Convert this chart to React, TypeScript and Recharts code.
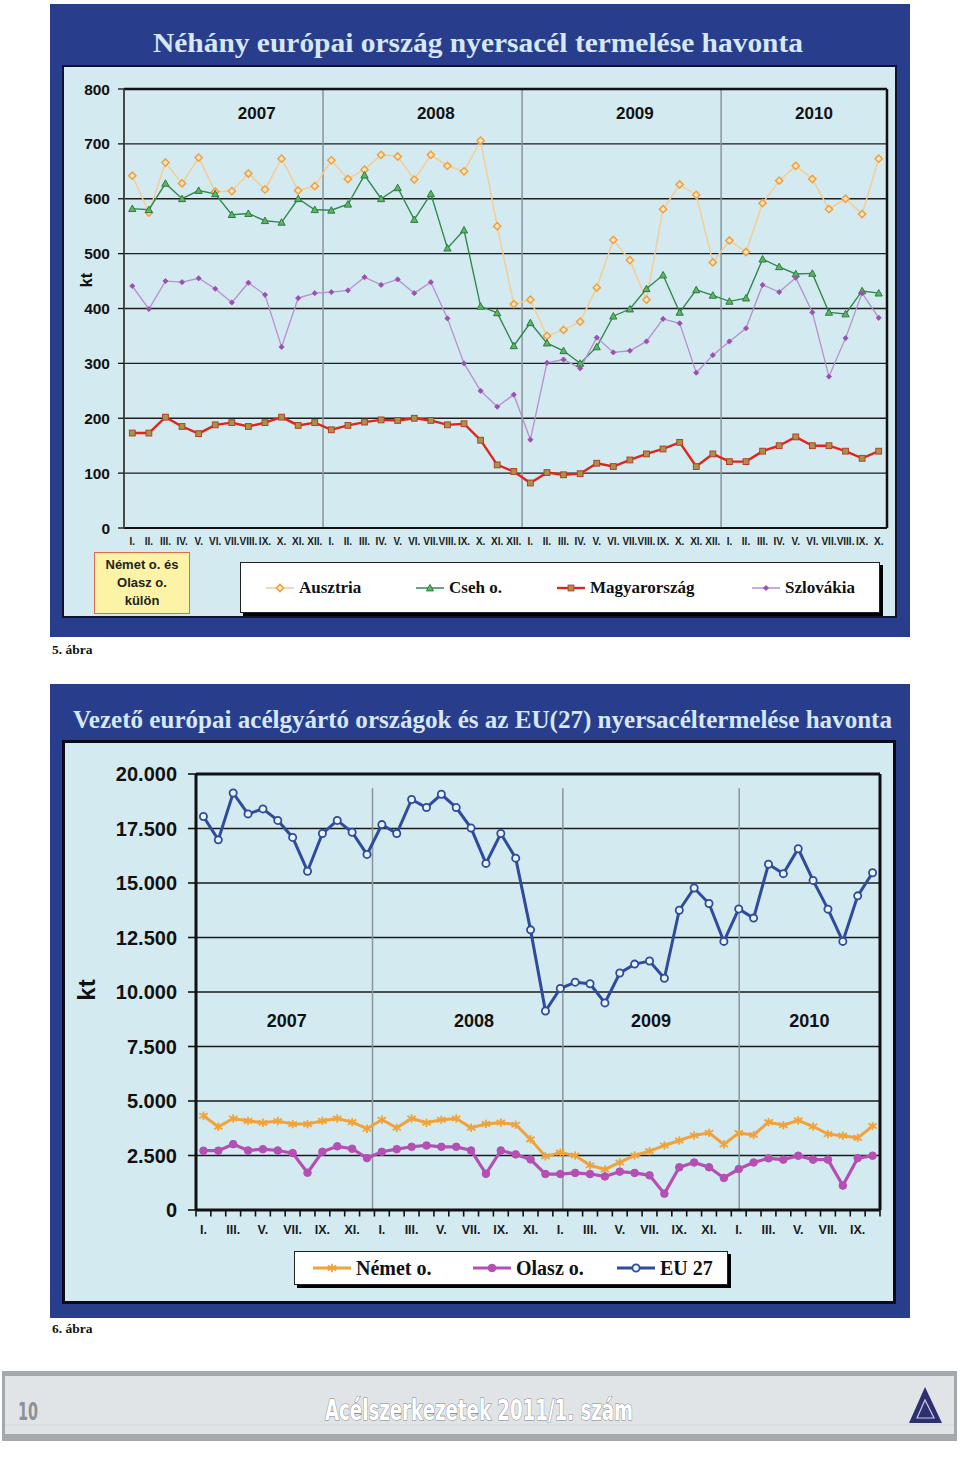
import React from 'react';
import { LineChart, Line, XAxis, YAxis, CartesianGrid, ReferenceLine, ReferenceDot, Legend } from 'recharts';

// ---------- categories / labels ----------
const monthNames = ['I.', 'II.', 'III.', 'IV.', 'V.', 'VI.', 'VII.', 'VIII.', 'IX.', 'X.', 'XI.', 'XII.'];
const monthLabels = [...monthNames, ...monthNames, ...monthNames, ...monthNames.slice(0, 10)];
const years = ['2007', '2008', '2009', '2010'];

// ---------- chart 1 series (kt) ----------
const austria = [642, 575, 666, 628, 675, 613, 614, 646, 617, 673, 615, 623, 670, 636, 653, 680, 677, 635, 680, 660, 650, 706, 550, 408, 416, 350, 361, 376, 438, 525, 488, 416, 581, 626, 607, 484, 524, 503, 592, 633, 660, 636, 581, 600, 572, 673];
const czech = [582, 580, 628, 600, 615, 609, 571, 573, 560, 557, 600, 580, 579, 590, 643, 600, 620, 562, 609, 510, 543, 404, 392, 332, 374, 337, 323, 300, 330, 386, 399, 436, 461, 393, 434, 424, 413, 419, 490, 476, 463, 464, 393, 390, 432, 428];
const hungary = [173, 173, 202, 185, 172, 188, 192, 185, 192, 202, 187, 192, 179, 187, 193, 197, 196, 200, 196, 188, 190, 160, 115, 103, 82, 101, 97, 99, 118, 112, 124, 135, 144, 156, 112, 135, 121, 121, 140, 150, 166, 150, 150, 140, 127, 140];
const slovakia = [441, 399, 450, 448, 455, 436, 411, 447, 425, 330, 419, 428, 430, 433, 457, 443, 453, 428, 448, 382, 300, 250, 221, 243, 161, 301, 307, 291, 347, 320, 323, 340, 381, 373, 283, 315, 340, 364, 443, 430, 456, 393, 276, 346, 428, 383];

// ---------- chart 2 series (kt) ----------
const eu27 = [18050, 16980, 19130, 18170, 18400, 17870, 17090, 15540, 17270, 17870, 17330, 16310, 17680, 17270, 18830, 18460, 19070, 18460, 17520, 15900, 17270, 16140, 12850, 9130, 10160, 10450, 10380, 9500, 10870, 11280, 11420, 10630, 13750, 14770, 14060, 12320, 13810, 13390, 15860, 15430, 16570, 15120, 13800, 12320, 14410, 15470];
const germany = [4320, 3820, 4200, 4090, 4000, 4080, 3940, 3940, 4090, 4200, 4030, 3730, 4140, 3770, 4200, 4000, 4140, 4200, 3770, 3950, 4010, 3910, 3240, 2460, 2630, 2500, 2050, 1860, 2180, 2500, 2700, 2960, 3190, 3420, 3540, 3010, 3530, 3440, 4030, 3890, 4110, 3830, 3480, 3410, 3310, 3850];
const italy = [2720, 2720, 3020, 2730, 2790, 2730, 2610, 1710, 2670, 2920, 2810, 2380, 2670, 2790, 2900, 2960, 2900, 2900, 2730, 1660, 2730, 2550, 2320, 1650, 1650, 1700, 1650, 1540, 1760, 1700, 1590, 750, 1960, 2180, 1960, 1470, 1880, 2180, 2370, 2310, 2490, 2310, 2310, 1120, 2380, 2490];

// ---------- axis ticks ----------
const yTicks1 = [0, 100, 200, 300, 400, 500, 600, 700, 800];
const yTicks2 = [0, 2500, 5000, 7500, 10000, 12500, 15000, 17500, 20000];
const xIdx = monthLabels.map((_, i) => i);
// chart 2: category boundaries (tick marks) + category centres (labels)
const xTicks2 = [...xIdx.flatMap((i) => [i - 0.5, i]), monthLabels.length - 0.5];

// annotation anchors (axis units)
const yearAnchor1 = [{ x: 7.5, y: 756 }, { x: 18.3, y: 756 }, { x: 30.3, y: 756 }, { x: 41.1, y: 756 }];
const yearAnchor2 = [{ x: 5.6, y: 8670 }, { x: 18.2, y: 8670 }, { x: 30.1, y: 8670 }, { x: 40.75, y: 8670 }];
const sep1 = [11.5, 23.5, 35.5];
const sep2 = [11.37, 24.17, 36.03];

const data1 = monthLabels.map((m, i) => ({ i, m, austria: austria[i], czech: czech[i], hungary: hungary[i], slovakia: slovakia[i] }));
const data2 = monthLabels.map((m, i) => ({ i, m, germany: germany[i], italy: italy[i], eu27: eu27[i] }));

const SANS = 'Liberation Sans, Arial, Helvetica, sans-serif';
const SERIF = 'Liberation Serif, Times New Roman, serif';

type Kind = 'diamond' | 'triangle' | 'square' | 'smalldiamond' | 'star' | 'dot' | 'ring';
interface SeriesStyle { key: string; name: string; line: string; width: number; kind: Kind; mStroke: string; mFill: string; size: number; }

const series1: SeriesStyle[] = [
  { key: 'austria', name: 'Ausztria', line: '#f5cd94', width: 1.5, kind: 'diamond', mStroke: '#f0a03c', mFill: '#fbe6c6', size: 3.6 },
  { key: 'czech', name: 'Cseh o.', line: '#2f8a4e', width: 1.4, kind: 'triangle', mStroke: '#2f7a44', mFill: '#5cb660', size: 3.6 },
  { key: 'hungary', name: 'Magyarország', line: '#e2231a', width: 2.4, kind: 'square', mStroke: '#b5402a', mFill: '#a8934a', size: 2.9 },
  { key: 'slovakia', name: 'Szlovákia', line: '#b690cd', width: 1.3, kind: 'smalldiamond', mStroke: '#9c4fae', mFill: '#9c4fae', size: 2.6 },
];
const series2: SeriesStyle[] = [
  { key: 'germany', name: 'Német o.', line: '#f2a23a', width: 3, kind: 'star', mStroke: '#f2a23a', mFill: '#f2a23a', size: 4.2 },
  { key: 'italy', name: 'Olasz o.', line: '#b44fb4', width: 3.2, kind: 'dot', mStroke: '#b44fb4', mFill: '#b44fb4', size: 3.8 },
  { key: 'eu27', name: 'EU 27', line: '#2e4b9c', width: 3, kind: 'ring', mStroke: '#2e4b9c', mFill: '#e9f3f8', size: 3.6 },
];

function Marker({ s, cx, cy }: { s: SeriesStyle; cx: number; cy: number }) {
  const r = s.size;
  switch (s.kind) {
    case 'diamond':
    case 'smalldiamond':
      return <polygon points={`${cx},${cy - r} ${cx + r},${cy} ${cx},${cy + r} ${cx - r},${cy}`} fill={s.mFill} stroke={s.mStroke} strokeWidth={s.kind === 'diamond' ? 1.5 : 0.8} />;
    case 'triangle':
      return <polygon points={`${cx},${cy - r} ${cx + r},${cy + r * 0.8} ${cx - r},${cy + r * 0.8}`} fill={s.mFill} stroke={s.mStroke} strokeWidth={1} />;
    case 'square':
      return <rect x={cx - r} y={cy - r} width={2 * r} height={2 * r} fill={s.mFill} stroke={s.mStroke} strokeWidth={1} />;
    case 'star':
      return (
        <g stroke={s.mStroke} strokeWidth={1.8}>
          <line x1={cx} y1={cy - r} x2={cx} y2={cy + r} />
          <line x1={cx - r} y1={cy - r * 0.6} x2={cx + r} y2={cy + r * 0.6} />
          <line x1={cx - r} y1={cy + r * 0.6} x2={cx + r} y2={cy - r * 0.6} />
        </g>
      );
    case 'dot':
      return <circle cx={cx} cy={cy} r={r} fill={s.mFill} stroke={s.mStroke} strokeWidth={1} />;
    case 'ring':
    default:
      return <circle cx={cx} cy={cy} r={r} fill={s.mFill} stroke={s.mStroke} strokeWidth={1.8} />;
  }
}

const makeDot = (s: SeriesStyle) => (p: any) => {
  if (p.cx == null || p.cy == null) return <g key={`${s.key}-e-${p.index}`} />;
  return <g key={`${s.key}-${p.index}`}><Marker s={s} cx={p.cx} cy={p.cy} /></g>;
};

const MonthTick1 = (p: any) => (
  <text x={p.x} y={p.y} dy="0.71em" textAnchor="middle" fontSize={10} fontWeight="bold" fontFamily={SANS} fill="#1a1a1a">
    {monthLabels[p.payload.value]}
  </text>
);
// chart 2 tick: y is the axis line itself (tickSize 0, tickMargin 0)
const MonthTick2 = (p: any) => {
  const v = p.payload.value;
  if (!Number.isInteger(v)) {
    return <line x1={p.x} y1={p.y} x2={p.x} y2={p.y + 6.5} stroke="#111" strokeWidth={1.6} />;
  }
  if (v % 2 !== 0) return <g />;
  return (
    <text x={p.x} y={p.y + 15} dy="0.71em" textAnchor="middle" fontSize={12.5} fontWeight="bold" fontFamily={SANS} fill="#1a1a1a">
      {monthLabels[v]}
    </text>
  );
};

const fmtThousands = (v: number) => {
  const s = String(v);
  return s.length > 3 ? s.slice(0, s.length - 3) + '.' + s.slice(-3) : s;
};

function LegendBox({ series, width, height, offsets, fontSize, lineLen }: { series: SeriesStyle[]; width: number; height: number; offsets: number[]; fontSize: number; lineLen: number }) {
  return (
    <div style={{ position: 'relative', width, height, background: '#fff', border: '1px solid #222', boxShadow: '3px 3px 0 #000', boxSizing: 'border-box' }}>
      {series.map((s, k) => (
        <div key={s.key} style={{ position: 'absolute', left: offsets[k], top: 0, height: height - 2, display: 'flex', alignItems: 'center' }}>
          <svg width={lineLen} height={14} style={{ display: 'block' }}>
            <line x1={0} y1={7} x2={lineLen} y2={7} stroke={s.line} strokeWidth={Math.max(1.5, s.width)} />
            <Marker s={s} cx={lineLen / 2} cy={7} />
          </svg>
          <span style={{ marginLeft: 5, fontFamily: SERIF, fontWeight: 'bold', fontSize, color: '#111', whiteSpace: 'nowrap' }}>{s.name}</span>
        </div>
      ))}
    </div>
  );
}

function Chart1() {
  return (
    <LineChart width={833} height={551} data={data1} margin={{ top: 23, right: 9, left: 0, bottom: 69 }}>
      <CartesianGrid vertical={false} stroke="#1e1e1e" strokeWidth={1.3} />
      <XAxis dataKey="i" type="number" domain={[-0.5, 45.5]} ticks={xIdx} interval={0} tick={MonthTick1} tickLine={false} tickMargin={4}
        axisLine={{ stroke: '#111', strokeWidth: 2 }} height={20} />
      <YAxis type="number" domain={[0, 800]} ticks={yTicks1} interval={0} width={61} tickMargin={8}
        tick={{ fontSize: 15.5, fontWeight: 'bold', fontFamily: SANS, fill: '#111' }}
        tickLine={{ stroke: '#111', strokeWidth: 1.3 }} axisLine={{ stroke: '#4a4a4a', strokeWidth: 2 }}
        label={{ content: (p: any) => (
          <text x={p.viewBox.x + 23} y={p.viewBox.y + 191} transform={`rotate(-90 ${p.viewBox.x + 23} ${p.viewBox.y + 191})`} textAnchor="middle" dominantBaseline="central" fontSize={16} fontWeight="bold" fontFamily={SANS} fill="#111">kt</text>
        ) }} />
      {sep1.map((x) => <ReferenceLine key={x} x={x} stroke="#8a9499" strokeWidth={1.5} />)}
      <ReferenceLine y={800} stroke="#111" strokeWidth={2.5} />
      <ReferenceLine x={45.5} stroke="#111" strokeWidth={2.5} />
      {yearAnchor1.map((a, k) => (
        <ReferenceDot key={years[k]} x={a.x} y={a.y} r={0} fill="none" stroke="none"
          label={{ value: years[k], position: 'center', fontSize: 17, fontWeight: 'bold', fontFamily: SANS, fill: '#111' }} />
      ))}
      {series1.map((s) => (
        <Line key={s.key} type="linear" dataKey={s.key} name={s.name} stroke={s.line} strokeWidth={s.width} dot={makeDot(s)} activeDot={false} isAnimationActive={false} />
      ))}
      <Legend layout="vertical" align="center" verticalAlign="middle" wrapperStyle={{ left: 177, top: 496, width: 640, height: 51 }}
        content={() => <LegendBox series={series1} width={640} height={51} offsets={[25, 175, 316, 511]} fontSize={17} lineLen={28} />} />
    </LineChart>
  );
}

function Chart2() {
  return (
    <LineChart width={832} height={561} data={data2} margin={{ top: 32, right: 16, left: 0, bottom: 63 }}>
      <CartesianGrid vertical={false} stroke="#1a1a1a" strokeWidth={1.6} />
      <XAxis dataKey="i" type="number" domain={[-0.5, 45.5]} ticks={xTicks2} interval={0} tick={MonthTick2} tickLine={false} tickSize={0} tickMargin={0}
        axisLine={{ stroke: '#111', strokeWidth: 3 }} height={30} />
      <YAxis type="number" domain={[0, 20000]} ticks={yTicks2} interval={0} width={132} tickSize={8} tickMargin={11}
        tickFormatter={fmtThousands}
        tick={{ fontSize: 20, fontWeight: 'bold', fontFamily: SANS, fill: '#111' }}
        tickLine={{ stroke: '#111', strokeWidth: 1.6 }} axisLine={{ stroke: '#111', strokeWidth: 3 }}
        label={{ content: (p: any) => (
          <text x={p.viewBox.x + 22} y={p.viewBox.y + 216} transform={`rotate(-90 ${p.viewBox.x + 22} ${p.viewBox.y + 216})`} textAnchor="middle" dominantBaseline="central" fontSize={24} fontWeight="bold" fontFamily={SANS} fill="#111">kt</text>
        ) }} />
      {sep2.map((x) => <ReferenceLine key={x} segment={[{ x, y: 0 }, { x, y: 19350 }]} stroke="#8a9499" strokeWidth={1.5} />)}
      <ReferenceLine y={20000} stroke="#111" strokeWidth={3} />
      <ReferenceLine x={45.5} stroke="#111" strokeWidth={3} />
      {yearAnchor2.map((a, k) => (
        <ReferenceDot key={years[k]} x={a.x} y={a.y} r={0} fill="none" stroke="none"
          label={{ value: years[k], position: 'center', fontSize: 18, fontWeight: 'bold', fontFamily: SANS, fill: '#111' }} />
      ))}
      {series2.map((s) => (
        <Line key={s.key} type="linear" dataKey={s.key} name={s.name} stroke={s.line} strokeWidth={s.width} dot={makeDot(s)} activeDot={false} isAnimationActive={false} />
      ))}
      <Legend layout="vertical" align="center" verticalAlign="middle" wrapperStyle={{ left: 230, top: 509, width: 434, height: 34 }}
        content={() => <LegendBox series={series2} width={434} height={34} offsets={[18, 178, 322]} fontSize={20} lineLen={38} />} />
    </LineChart>
  );
}

const abs = (left: number, top: number, width: number, height: number, extra: React.CSSProperties = {}): React.CSSProperties => ({ position: 'absolute', left, top, width, height, boxSizing: 'border-box', ...extra });

export default function App() {
  return (
    <div style={{ position: 'absolute', left: 0, top: 0, width: 960, height: 1461, background: '#fff', overflow: 'hidden' }}>
      {/* panel 1 */}
      <div style={abs(50, 4, 860, 633, { background: '#283e8c' })} />
      <div style={abs(62, 65, 835, 553, { background: '#d3eaf0', border: '2px solid #10122e' })} />
      {/* panel 2 */}
      <div style={abs(50, 684, 860, 634, { background: '#283e8c' })} />
      <div style={abs(62, 740, 834, 564, { background: '#d3eaf0', border: '3px solid #0a0a1a' })} />

      <svg width={960} height={1461} style={{ position: 'absolute', left: 0, top: 0 }}>
        <text x={153} y={52} textLength={650} lengthAdjust="spacingAndGlyphs" fontFamily={SERIF} fontWeight="bold" fontSize={28} fill="#d6e7f5">Néhány európai ország nyersacél termelése havonta</text>
        <text x={73} y={728} textLength={819} lengthAdjust="spacingAndGlyphs" fontFamily={SERIF} fontWeight="bold" fontSize={25} fill="#d6e7f5">Vezető európai acélgyártó országok és az EU(27) nyersacéltermelése havonta</text>
        <text x={52} y={654} fontFamily={SERIF} fontWeight="bold" fontSize={13.5} fill="#111">5. ábra</text>
        <text x={52} y={1333} fontFamily={SERIF} fontWeight="bold" fontSize={13.5} fill="#111">6. ábra</text>
        {/* footer */}
        <rect x={2} y={1371} width={955} height={70} fill="#a4a9ae" />
        <rect x={5} y={1376} width={949} height={58} fill="#e1e4e7" />
        <line x1={5} y1={1425} x2={954} y2={1425} stroke="#cfd3d7" strokeWidth={1} />
        <text x={18} y={1420} textLength={20} lengthAdjust="spacingAndGlyphs" fontFamily="DejaVu Sans Condensed, DejaVu Sans, sans-serif" fontWeight="bold" fontSize={25} fill="#8c9197">10</text>
        <text x={325} y={1420} textLength={308} lengthAdjust="spacingAndGlyphs" fontFamily="DejaVu Sans Condensed, DejaVu Sans, sans-serif" fontWeight="bold" fontSize={29} fill="#ffffff" stroke="#7f858b" strokeWidth={1.1} paintOrder="stroke">Acélszerkezetek 2011/1. szám</text>
        <polygon points="909,1423 925,1387 942,1423" fill="#2e2f6e" />
        <polygon points="917,1418 925,1400 934,1418" fill="none" stroke="#c9cbe0" strokeWidth={1.2} />
      </svg>

      <div style={abs(94, 552, 96, 62, { background: '#fcf3a6', border: '1.5px solid #e06a4a', fontFamily: SANS, fontWeight: 'bold', fontSize: 13, lineHeight: '18px', textAlign: 'center', color: '#222', paddingTop: 3 })}>
        Német o. és<br />Olasz o.<br />külön
      </div>

      <div style={abs(63, 66, 833, 551)}>
        <Chart1 />
      </div>
      <div style={abs(64, 742, 832, 561)}>
        <Chart2 />
      </div>
    </div>
  );
}
